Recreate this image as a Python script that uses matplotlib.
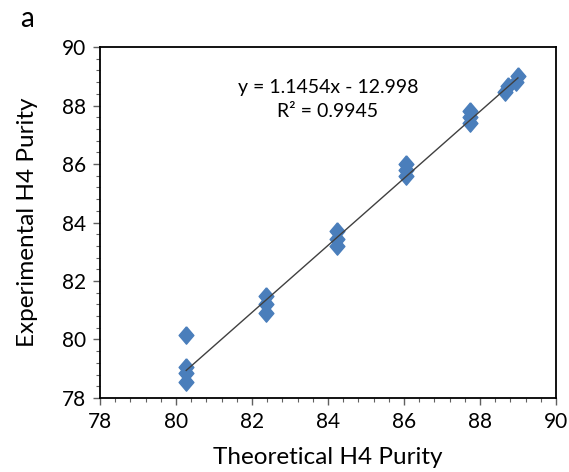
import numpy as np
import matplotlib
matplotlib.use("Agg")
import matplotlib.pyplot as plt
from matplotlib.ticker import MultipleLocator

plt.rcParams['font.family'] = ['Lato', 'DejaVu Sans']

# theoretical vs measured H4 purity (replicates per level)
theoretical = [80.27, 80.27, 80.27, 80.27,
               82.37, 82.37, 82.37,
               84.25, 84.25, 84.25,
               86.05, 86.05, 86.05,
               87.75, 87.75, 87.75,
               88.65, 88.75, 88.95, 89.0]
experimental = [80.15, 79.05, 78.85, 78.55,
                81.5, 81.2, 80.9,
                83.7, 83.45, 83.2,
                86.0, 85.8, 85.6,
                87.8, 87.6, 87.4,
                88.45, 88.65, 88.8, 89.0]

slope = 1.1454
intercept = -12.998
r2 = 0.9945

fig = plt.figure(figsize=(5.69, 4.72), dpi=100)
ax = fig.add_axes([0.1757, 0.1568, 0.8013, 0.7436])

diamond = [(0, 1), (0.85, 0), (0, -1), (-0.85, 0), (0, 1)]
ax.plot(theoretical, experimental, linestyle='none', marker=diamond,
        markersize=12.5, color='#4a7ebb', zorder=2)

# linear trendline
xfit = np.array([min(theoretical), max(theoretical)])
ax.plot(xfit, slope * xfit + intercept, color='#404040', lw=1, zorder=3)

ax.text(0.5, 0.885, f"y = {slope}x - {abs(intercept)}", transform=ax.transAxes,
        ha='center', va='center', fontsize=14)
ax.text(0.5, 0.815, f"R² = {r2}", transform=ax.transAxes,
        ha='center', va='center', fontsize=14)

ax.set_xlim(78, 90)
ax.set_ylim(78, 90)
ax.xaxis.set_major_locator(MultipleLocator(2))
ax.yaxis.set_major_locator(MultipleLocator(2))
ax.xaxis.set_minor_locator(MultipleLocator(0.4))
ax.yaxis.set_minor_locator(MultipleLocator(0.4))
ax.tick_params(which='both', direction='out', top=False, right=False,
               color='#606060', labelsize=15)
ax.tick_params(which='major', length=5, width=1, pad=5)
ax.tick_params(which='minor', length=3, width=0.8)

for s in ax.spines.values():
    s.set_color('black')
    s.set_linewidth(1.3)

ax.set_xlabel("Theoretical H4 Purity", fontsize=17.5, labelpad=11)
ax.set_ylabel("Experimental H4 Purity", fontsize=17.5, labelpad=17)

fig.text(0.035, 0.96, "a", fontsize=20, ha='left', va='center')

fig.savefig("out.png", dpi=100)
